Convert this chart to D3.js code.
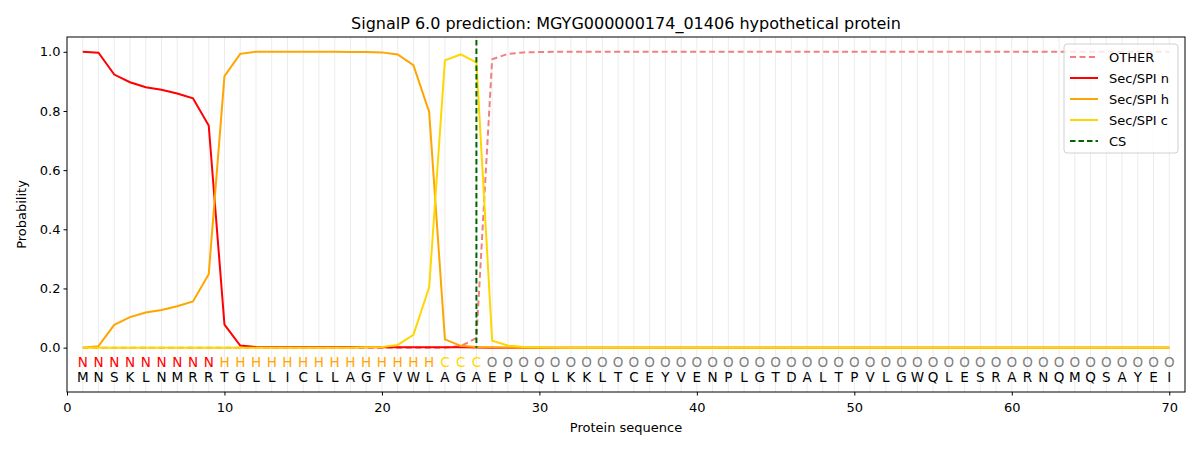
<!DOCTYPE html>
<html>
<head>
<meta charset="utf-8">
<script src="https://cdn.jsdelivr.net/npm/d3@7"></script>
<style>
  body { margin: 0; background: #fff; }
  svg text { font-family: "DejaVu Sans", sans-serif; }
</style>
</head>
<body>
<div id="chart"></div>
<script>
// sequence and per-position labels
var sequence = "MNSKLNMRRTGLLICLLAGFVWLAGAEPLQLKKLTCEYVENPLGTDALTPVLGWQLESRARNQMQSAYEI".split("");
var regionLabels = "NNNNNNNNNHHHHHHHHHHHHHHCCC".split("").concat(d3.range(44).map(function () { return "O"; }));

// probabilities per position (1..70)
var secN = [1.0, 0.997, 0.923, 0.897, 0.880, 0.872, 0.859, 0.843, 0.751, 0.078,
  0.007, 0.002, 0.001, 0.001, 0.001, 0.001, 0.001, 0.001, 0.001, 0.001,
  0.001, 0.001, 0.001, 0.001, 0.001, 0.0, 0.0, 0.0, 0.0, 0.0];
var secH = [0.0, 0.005, 0.077, 0.103, 0.119, 0.127, 0.140, 0.156, 0.248, 0.918,
  0.993, 1.0, 1.0, 1.0, 1.0, 1.0, 1.0, 0.999, 0.999, 0.998,
  0.991, 0.955, 0.797, 0.028, 0.006, 0.002, 0.001, 0.0, 0.0, 0.0];
var secC = [0.0, 0.0, 0.0, 0.0, 0.0, 0.0, 0.0, 0.0, 0.0, 0.0,
  0.0, 0.0, 0.0, 0.0, 0.0, 0.0, 0.0, 0.0, 0.001, 0.002,
  0.009, 0.043, 0.204, 0.971, 0.991, 0.964, 0.023, 0.007, 0.002, 0.001];
var other = [0.0, 0.0, 0.0, 0.0, 0.0, 0.0, 0.0, 0.0, 0.0, 0.0,
  0.0, 0.0, 0.0, 0.0, 0.0, 0.0, 0.0, 0.0, 0.0, 0.0,
  0.0, 0.0, 0.0, 0.0, 0.005, 0.032, 0.975, 0.993, 0.998, 0.999];
// pad the tails: everything after 30 is OTHER
for (var k = 30; k < 70; k++) { secN.push(0); secH.push(0); secC.push(0); other.push(1.0); }
var csPos = 26;

var xTicks = [0, 10, 20, 30, 40, 50, 60, 70];
var yTicks = [0.0, 0.2, 0.4, 0.6, 0.8, 1.0];

var width = 1200, height = 450;
var margin = { top: 37, right: 15, bottom: 58, left: 67 };

var svg = d3.select("#chart").append("svg")
  .attr("width", width).attr("height", height);

var x = d3.scaleLinear().domain([0, 71]).range([margin.left, width - margin.right]);
var y = d3.scaleLinear().domain([-0.15, 1.05]).range([height - margin.bottom, margin.top]);

// vertical grid at every residue
svg.append("g").selectAll("line")
  .data(d3.range(1, 71))
  .enter().append("line")
  .attr("x1", function (d) { return x(d); })
  .attr("x2", function (d) { return x(d); })
  .attr("y1", y(-0.15)).attr("y2", y(1.05))
  .attr("stroke", "#ececec").attr("stroke-width", 1);

var positions = d3.range(1, 71);
var line = function (vals) {
  return d3.line()
    .x(function (d, i) { return x(i + 1); })
    .y(function (d) { return y(d); })(vals);
};

var series = [
  { name: "OTHER", vals: other, color: "#f08080", dash: "6,3.5" },
  { name: "Sec/SPI n", vals: secN, color: "#ff0000", dash: null },
  { name: "Sec/SPI h", vals: secH, color: "#ffa500", dash: null },
  { name: "Sec/SPI c", vals: secC, color: "#ffd700", dash: null }
];

series.forEach(function (s) {
  svg.append("path")
    .attr("d", line(s.vals))
    .attr("fill", "none")
    .attr("stroke", s.color)
    .attr("stroke-width", 2)
    .attr("stroke-dasharray", s.dash);
});

// cleavage site
svg.append("line")
  .attr("x1", x(csPos)).attr("x2", x(csPos))
  .attr("y1", y(1.04)).attr("y2", y(0))
  .attr("stroke", "#006400").attr("stroke-width", 2)
  .attr("stroke-dasharray", "5.5,3");

// residue labels
var labelColor = { N: "#ff0000", H: "#ffa500", C: "#ffd700", O: "#808080" };
svg.append("g").selectAll("text")
  .data(regionLabels)
  .enter().append("text")
  .attr("x", function (d, i) { return x(i + 1); })
  .attr("y", y(-0.05))
  .attr("dy", "0.35em")
  .attr("text-anchor", "middle")
  .attr("font-size", "13.5px")
  .attr("fill", function (d) { return labelColor[d]; })
  .text(function (d) { return d; });

svg.append("g").selectAll("text")
  .data(sequence)
  .enter().append("text")
  .attr("x", function (d, i) { return x(i + 1); })
  .attr("y", y(-0.1))
  .attr("dy", "0.35em")
  .attr("text-anchor", "middle")
  .attr("font-size", "13.5px")
  .attr("fill", "#000")
  .text(function (d) { return d; });

// axes
var xAxis = svg.append("g")
  .attr("transform", "translate(0," + y(-0.15) + ")")
  .call(d3.axisBottom(x).tickValues(xTicks).tickFormat(d3.format("d")).tickSizeOuter(0).tickSize(3.5));
var yAxis = svg.append("g")
  .attr("transform", "translate(" + x(0) + ",0)")
  .call(d3.axisLeft(y).tickValues(yTicks).tickFormat(d3.format(".1f")).tickSizeOuter(0).tickSize(3.5));
[xAxis, yAxis].forEach(function (a) {
  a.select(".domain").remove();
  a.selectAll("text").attr("font-size", "13px").attr("font-family", "DejaVu Sans").attr("fill", "#000");
  a.selectAll("line").attr("stroke", "#000");
});
xAxis.selectAll("text").attr("dy", "1.05em");

svg.append("rect")
  .attr("x", x(0)).attr("y", y(1.05))
  .attr("width", x(71) - x(0)).attr("height", y(-0.15) - y(1.05))
  .attr("fill", "none").attr("stroke", "#000").attr("stroke-width", 1);

svg.append("text")
  .attr("x", (x(0) + x(71)) / 2).attr("y", 29)
  .attr("text-anchor", "middle").attr("font-size", "16px")
  .text("SignalP 6.0 prediction: MGYG000000174_01406 hypothetical protein");

svg.append("text")
  .attr("x", (x(0) + x(71)) / 2).attr("y", 432)
  .attr("text-anchor", "middle").attr("font-size", "13px")
  .text("Protein sequence");

svg.append("text")
  .attr("transform", "translate(26," + y(0.45) + ") rotate(-90)")
  .attr("text-anchor", "middle").attr("font-size", "13px")
  .text("Probability");

// legend
var legendItems = series.concat([{ name: "CS", color: "#006400", dash: "5.5,3" }]);
var lg = svg.append("g").attr("transform", "translate(1064,44)");
lg.append("rect")
  .attr("width", 114).attr("height", 109).attr("rx", 3)
  .attr("fill", "#fff").attr("fill-opacity", 0.8)
  .attr("stroke", "#d0d0d0");
legendItems.forEach(function (d, i) {
  var yy = 13 + i * 21;
  lg.append("line")
    .attr("x1", 6).attr("x2", 34).attr("y1", yy).attr("y2", yy)
    .attr("stroke", d.color).attr("stroke-width", 2)
    .attr("stroke-dasharray", d.dash);
  lg.append("text")
    .attr("x", 45).attr("y", yy).attr("dy", "0.35em")
    .attr("font-size", "13px").text(d.name);
});
</script>
</body>
</html>
